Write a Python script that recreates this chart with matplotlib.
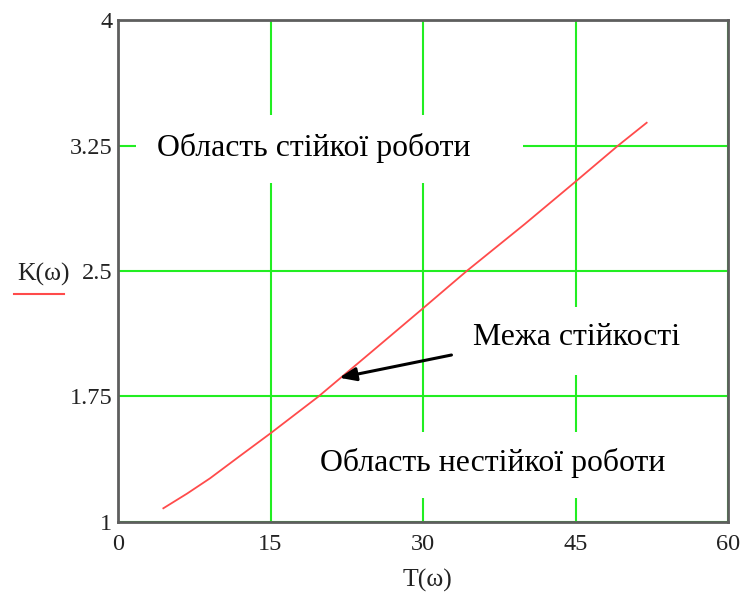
import matplotlib
matplotlib.use("Agg")
import matplotlib.pyplot as plt
from matplotlib.patches import Rectangle

# Stability boundary K(ω) versus T(ω)
T_vals = [4.46, 6.8, 9.05, 12.0, 15.0, 19.7, 25.0, 30.0, 34.3, 40.0, 45.0, 49.2, 52.0]
K_vals = [1.082, 1.170, 1.261, 1.395, 1.530, 1.749, 2.020, 2.277, 2.500, 2.780, 3.034, 3.250, 3.386]

x_ticks = [0, 15, 30, 45, 60]
x_tick_labels = ["0", "15", "30", "45", "60"]
y_ticks = [1, 1.75, 2.5, 3.25, 4]
y_tick_labels = ["1", "1.75", "2.5", "3.25", "4"]

label_stable = "Область стійкої роботи"
label_unstable = "Область нестійкої роботи"
label_boundary = "Межа стійкості"

serif = ["Liberation Serif", "DejaVu Serif"]
tick_color = "#222222"
grid_color = "#22ee22"
curve_color = "#ff4b4b"

fig = plt.figure(figsize=(7.48, 5.96), dpi=100)
ax = fig.add_axes([118 / 748, 74 / 596, 610 / 748, 502 / 596])

ax.set_xlim(0, 60)
ax.set_ylim(1, 4)
ax.set_xticks(x_ticks)
ax.set_xticklabels(x_tick_labels)
ax.set_yticks(y_ticks)
ax.set_yticklabels(y_tick_labels)
ax.tick_params(length=0, pad=4, labelsize=17.5, colors=tick_color)
ax.tick_params(axis="x", pad=9)
for lbl in ax.get_xticklabels() + ax.get_yticklabels():
    lbl.set_family(serif)

ax.set_axisbelow(True)
ax.grid(True, color=grid_color, linewidth=1.5)

for sp in ax.spines.values():
    sp.set_color("#5e5e5e")
    sp.set_linewidth(2.0)
    sp.set_zorder(5)

# white backgrounds of the text regions
boxes = [
    (1.77, 3.026, 39.8 - 1.77, 3.432 - 3.026),
    (33.4, 1.878, 57.0 - 33.4, 2.285 - 1.878),
    (17.9, 1.143, 57.2 - 17.9, 1.538 - 1.143),
]
for (bx, by, bw, bh) in boxes:
    ax.add_patch(Rectangle((bx, by), bw, bh, facecolor="white",
                           edgecolor="none", zorder=1))

ax.plot(T_vals, K_vals, color=curve_color, linewidth=1.3, zorder=2)

ax.text(3.84, 3.235, label_stable, ha="left", va="center",
        fontsize=22.9, family=serif, color="black", zorder=3)
ax.text(34.9, 2.10, label_boundary, ha="left", va="center",
        fontsize=22.9, family=serif, color="black", zorder=3)
ax.text(19.87, 1.353, label_unstable, ha="left", va="center",
        fontsize=22.9, family=serif, color="black", zorder=3)

ax.annotate("", xy=(21.77, 1.862), xytext=(32.8, 1.998),
            arrowprops=dict(arrowstyle="-|>,head_length=1.0,head_width=0.4",
                            color="black", linewidth=2.2, shrinkA=0, shrinkB=0),
            zorder=4)

# axis titles
fig.text(427 / 748, 1 - 580 / 596, "T(ω)", ha="center", va="center",
         fontsize=18.5, family=serif, color=tick_color)
fig.text(44 / 748, 1 - 274 / 596, "K(ω)", ha="center", va="center",
         fontsize=18.5, family=serif, color=tick_color)
fig.add_artist(plt.Line2D([14 / 748, 64 / 748], [1 - 294 / 596, 1 - 294 / 596],
                          color=curve_color, linewidth=1.5,
                          transform=fig.transFigure))

fig.savefig("out.png", dpi=100, facecolor="white")
